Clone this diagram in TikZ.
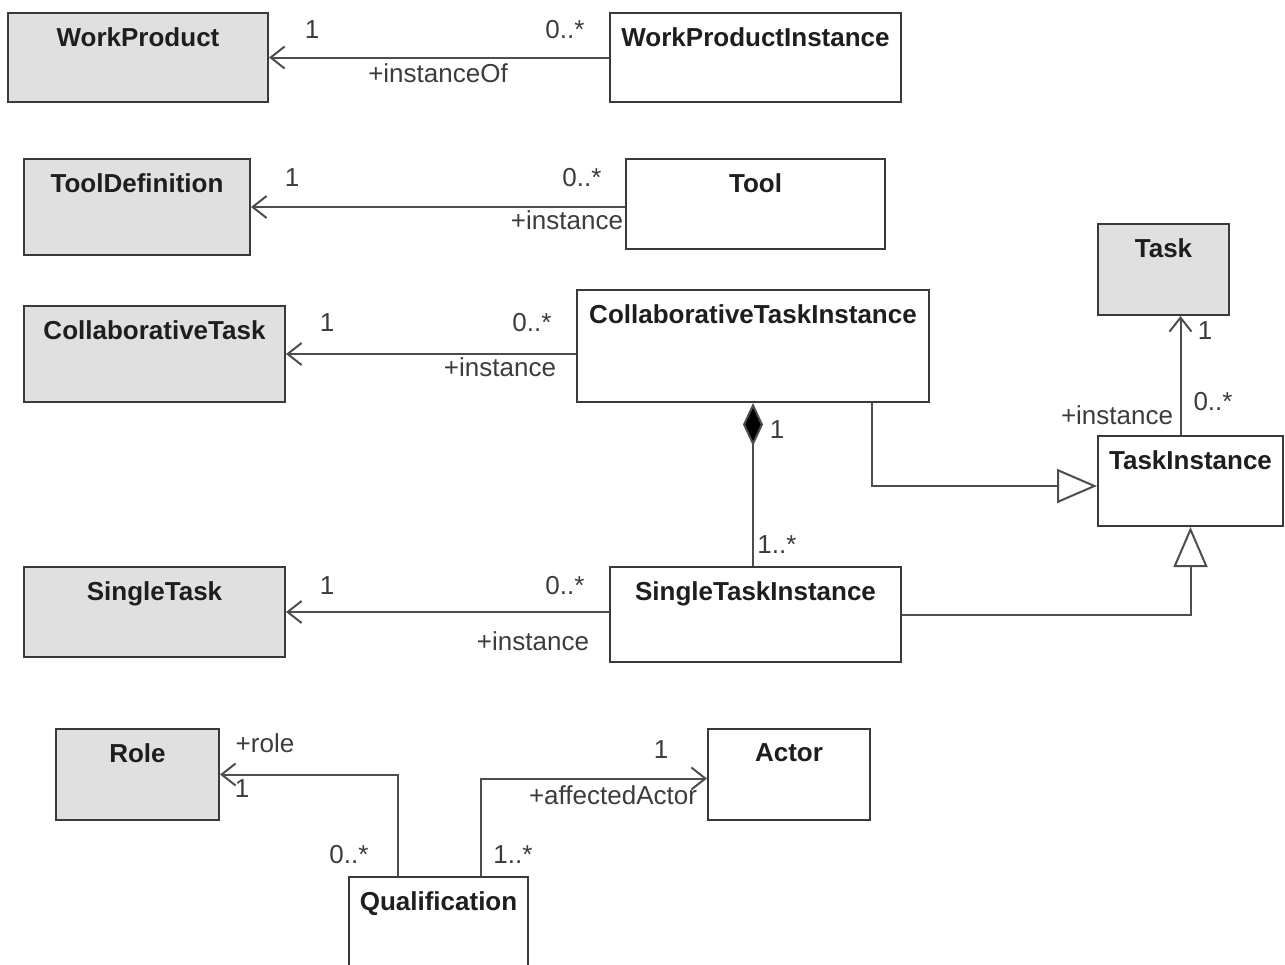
\documentclass[tikz,border=0pt]{standalone}
\usepackage{fontspec}
\setmainfont{Liberation Sans}
\usetikzlibrary{arrows.meta, positioning}
\definecolor{umlgray}{HTML}{E0E0E0}
\definecolor{umlline}{HTML}{3A3A3A}
\definecolor{umlconn}{HTML}{4D4D4D}
\definecolor{umltext}{HTML}{1E1E1E}
\definecolor{umlmuted}{HTML}{3C3C3C}
\tikzset{
  cls/.style={rectangle, draw=umlline, line width=2pt, fill=white, inner sep=0pt},
  clsdef/.style={cls, fill=umlgray},
  cname/.style={font=\fontsize{26}{30}\selectfont\bfseries, text=umltext, inner sep=0pt, anchor=north},
  mult/.style={font=\fontsize{26}{30}\selectfont, text=umlmuted, inner sep=0pt},
  assoc/.style={-{Straight Barb[length=14pt, width=22pt, line width=2pt]}, draw=umlconn, line width=2pt},
  gen/.style={-{Triangle[length=40pt, width=34pt, fill=white, line width=2pt]}, draw=umlconn, line width=2pt},
  comp/.style={-{Diamond[length=43pt, width=20pt, fill=black]}, draw=umlconn, line width=2pt},
}
\begin{document}
\begin{tikzpicture}[x=1pt,y=-1pt]
  \useasboundingbox (0,0) rectangle (1285,964);
  % classes
  \node[clsdef, minimum width=260pt, minimum height=89pt]  (wp)    at (138,57.5)    {};
  \node[cls,    minimum width=291pt, minimum height=89pt]  (wpi)   at (755.5,57.5)  {};
  \node[clsdef, minimum width=226pt, minimum height=96pt]  (tdef)  at (137,207)     {};
  \node[cls,    minimum width=259pt, minimum height=90pt]  (tool)  at (755.5,204)   {};
  \node[clsdef, minimum width=131pt, minimum height=91pt]  (task)  at (1163.5,269.5){};
  \node[clsdef, minimum width=261pt, minimum height=96pt]  (ctask) at (154.5,354)   {};
  \node[cls,    minimum width=352pt, minimum height=112pt] (cti)   at (753,346)     {};
  \node[cls,    minimum width=185pt, minimum height=90pt]  (ti)    at (1190.5,481)  {};
  \node[clsdef, minimum width=261pt, minimum height=90pt]  (stask) at (154.5,612)   {};
  \node[cls,    minimum width=291pt, minimum height=95pt]  (sti)   at (755.5,614.5) {};
  \node[clsdef, minimum width=163pt, minimum height=91pt]  (role)  at (137.5,774.5) {};
  \node[cls,    minimum width=162pt, minimum height=91pt]  (actor) at (789,774.5)   {};
  \node[cls, anchor=north, minimum width=179pt, minimum height=110pt] (qual) at (438.5,876) {};
  % class names
  \node[cname, below=15pt of wp.north]    (wpN)    {WorkProduct};
  \node[cname, below=15pt of wpi.north]   (wpiN)   {WorkProductInstance};
  \node[cname, below=15pt of tdef.north]  (tdefN)  {ToolDefinition};
  \node[cname, below=15pt of tool.north]  (toolN)  {Tool};
  \node[cname, below=15pt of task.north]  (taskN)  {Task};
  \node[cname, below=15pt of ctask.north] (ctaskN) {CollaborativeTask};
  \node[cname, below=15pt of cti.north]   (ctiN)   {CollaborativeTaskInstance};
  \node[cname, below=15pt of ti.north]    (tiN)    {TaskInstance};
  \node[cname, below=15pt of stask.north] (staskN) {SingleTask};
  \node[cname, below=15pt of sti.north]   (stiN)   {SingleTaskInstance};
  \node[cname, below=15pt of role.north]  (roleN)  {Role};
  \node[cname, below=15pt of actor.north] (actorN) {Actor};
  \node[cname, below=15pt of qual.north]  (qualN)  {Qualification};
  % associations
  \draw[assoc] (wpi.west) -- (wp.east);
  \draw[assoc] (tool.west |- tdef.east) -- (tdef.east);
  \draw[assoc] (cti.west |- ctask.east) -- (ctask.east);
  \draw[assoc] (sti.west |- stask.east) -- (stask.east);
  \draw[assoc] ([xshift=-10pt]ti.north) -- ([xshift=-10pt]ti.north |- task.south);
  \draw[assoc] ([xshift=50pt]qual.north west) |- (role.east);
  \draw[assoc] ([xshift=-48.5pt]qual.north east) |- ([yshift=-4pt]actor.west);
  % generalizations and composition
  \draw[gen] ([xshift=-58pt]cti.south east) |- ([yshift=-5pt]ti.west);
  \draw[gen] (sti.east) -| (ti.south);
  \draw[comp] (cti.south |- sti.north) -- (cti.south);
  % multiplicities and role names
  \node[mult] (m1)  at (312,30)    {1};
  \node[mult] (m2)  at (565,30)    {0..*};
  \node[mult] (r1)  at (438,73)    {+instanceOf};
  \node[mult] (m3)  at (292,178)   {1};
  \node[mult] (m4)  at (582,178)   {0..*};
  \node[mult] (r2)  at (567,220)   {+instance};
  \node[mult] (m5)  at (327,323)   {1};
  \node[mult] (m6)  at (532,323)   {0..*};
  \node[mult] (r3)  at (500,367)   {+instance};
  \node[mult] (m7)  at (1205,331)  {1};
  \node[mult] (m8)  at (1213,402)  {0..*};
  \node[mult] (r4)  at (1117,415)  {+instance};
  \node[mult] (m9)  at (777,430)   {1};
  \node[mult] (m10) at (777,545)   {1..*};
  \node[mult] (m11) at (327,586)   {1};
  \node[mult] (m12) at (565,586)   {0..*};
  \node[mult] (r5)  at (533,641)   {+instance};
  \node[mult] (r6)  at (265,743)   {+role};
  \node[mult] (m13) at (242,789)   {1};
  \node[mult] (m14) at (349,855)   {0..*};
  \node[mult] (m15) at (661,750)   {1};
  \node[mult] (r7)  at (613,795)   {+affectedActor};
  \node[mult] (m16) at (513,855)   {1..*};
\end{tikzpicture}
\end{document}
